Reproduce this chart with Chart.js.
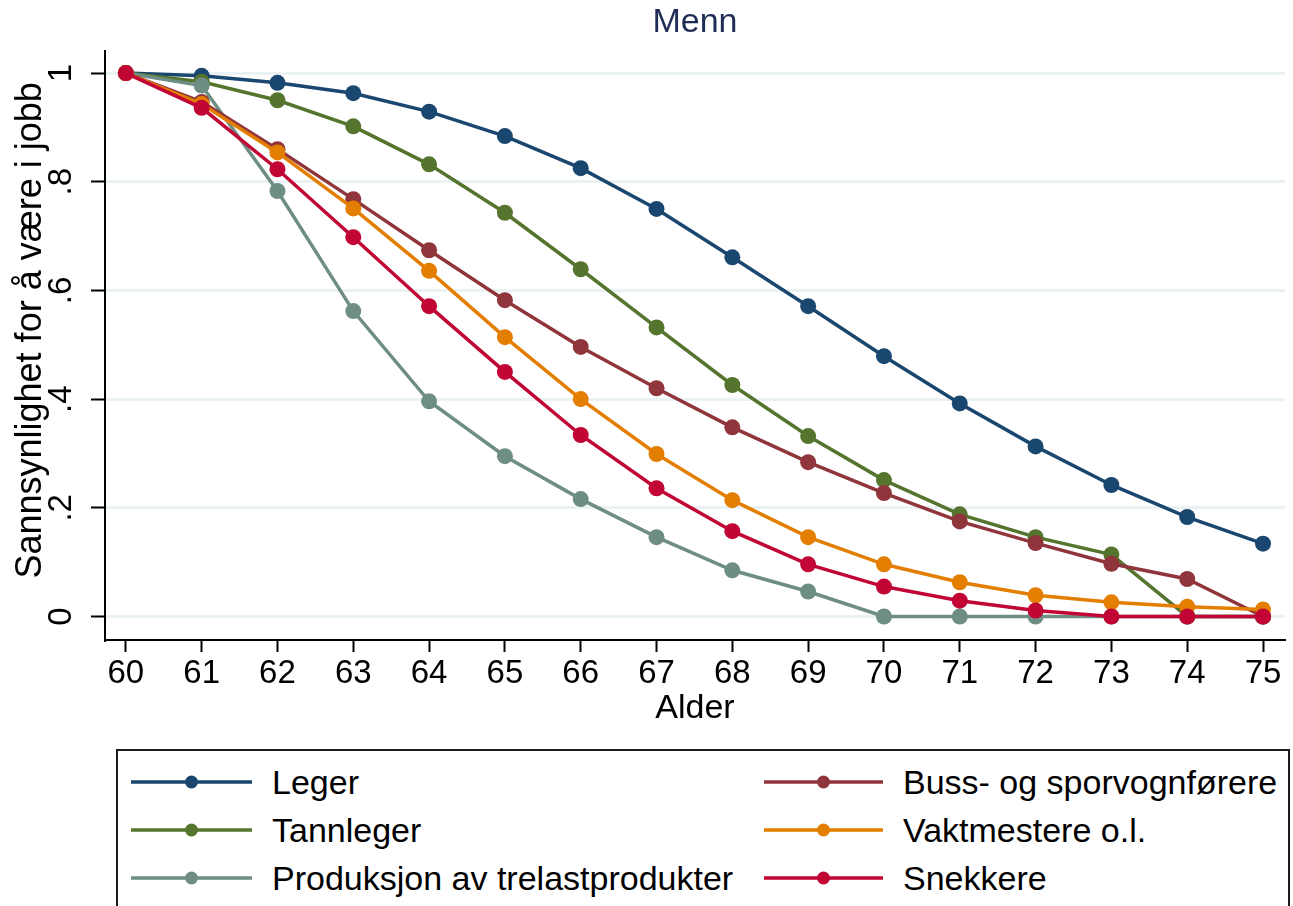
<!DOCTYPE html>
<html>
<head>
<meta charset="utf-8">
<title>Menn</title>
<script src="https://cdn.jsdelivr.net/npm/chart.js@4.4.1/dist/chart.umd.min.js"></script>
<style>
  body { margin: 0; background: #fff; overflow: hidden; }
  #wrap { position: relative; width: 1293px; height: 906px; font-family: "Liberation Sans", Arial, sans-serif; }
  #chart { position: absolute; left: 0; top: 0; }
  #legend { position: absolute; left: 116px; top: 749px; width: 1170px; height: 200px; border: 2px solid #1b1b1b; }
  .item { position: absolute; height: 40px; display: flex; align-items: center; }
  .item span { font-size: 34px; color: #000; margin-left: 20px; white-space: nowrap; }
</style>
</head>
<body>
<div id="wrap">
  <canvas id="chart" width="1293" height="745"></canvas>
  <div id="legend"></div>
</div>
<script>
// Data
const ages = [60, 61, 62, 63, 64, 65, 66, 67, 68, 69, 70, 71, 72, 73, 74, 75];
const leger        = [1, 0.995, 0.982, 0.963, 0.929, 0.884, 0.825, 0.750, 0.661, 0.571, 0.479, 0.392, 0.313, 0.242, 0.183, 0.134];
const tannleger    = [1, 0.984, 0.950, 0.902, 0.832, 0.743, 0.639, 0.532, 0.426, 0.332, 0.251, 0.188, 0.146, 0.114, 0, 0];
const produksjon   = [1, 0.977, 0.783, 0.562, 0.396, 0.295, 0.216, 0.146, 0.085, 0.046, 0, 0, 0, 0, 0, 0];
const buss         = [1, 0.947, 0.860, 0.768, 0.674, 0.582, 0.496, 0.420, 0.348, 0.284, 0.227, 0.175, 0.135, 0.097, 0.069, 0];
const vaktmestere  = [1, 0.943, 0.854, 0.751, 0.636, 0.514, 0.400, 0.299, 0.214, 0.146, 0.096, 0.063, 0.039, 0.026, 0.018, 0.013];
const snekkere     = [1, 0.936, 0.823, 0.698, 0.571, 0.450, 0.334, 0.236, 0.157, 0.096, 0.055, 0.029, 0.011, 0, 0, 0];

const seriesNames = ['Leger', 'Tannleger', 'Produksjon av trelastprodukter', 'Buss- og sporvognførere', 'Vaktmestere o.l.', 'Snekkere'];
const seriesValues = [leger, tannleger, produksjon, buss, vaktmestere, snekkere];
const seriesColors = ['#1a476f', '#55752f', '#6e8e84', '#90353b', '#e37e00', '#c10534'];

const yTickValues = [0, 0.2, 0.4, 0.6, 0.8, 1];
const yTickLabels = ['0', '.2', '.4', '.6', '.8', '1'];

const FONT = '"Liberation Sans", Arial, sans-serif';
Chart.defaults.font.family = FONT;

// Legend (two columns, filled column by column like Stata)
const legendBox = document.getElementById('legend');
seriesNames.forEach((name, i) => {
  const col = Math.floor(i / 3);
  const row = i % 3;
  const item = document.createElement('div');
  item.className = 'item';
  item.style.left = (col === 0 ? 13 : 646) + 'px';
  item.style.top = (11 + row * 48) + 'px';
  const w = col === 0 ? 121 : 119;
  item.innerHTML =
    '<svg width="' + w + '" height="40">' +
    '<line x1="0" y1="20" x2="' + w + '" y2="20" stroke="' + seriesColors[i] + '" stroke-width="3.5"/>' +
    '<circle cx="' + (w / 2) + '" cy="20" r="6.5" fill="' + seriesColors[i] + '"/></svg>' +
    '<span>' + name + '</span>';
  legendBox.appendChild(item);
});

const datasets = seriesNames.map((name, i) => ({
  label: name,
  data: ages.map((a, j) => ({ x: a, y: seriesValues[i][j] })),
  borderColor: seriesColors[i],
  backgroundColor: seriesColors[i],
  pointBackgroundColor: seriesColors[i],
  pointBorderWidth: 0,
  pointRadius: 8,
  borderWidth: 3.5,
  tension: 0,
  fill: false,
  order: seriesNames.length - i
}));

new Chart(document.getElementById('chart'), {
  type: 'line',
  data: { datasets: datasets },
  options: {
    responsive: false,
    animation: false,
    layout: { padding: 0 },
    plugins: {
      legend: { display: false },
      tooltip: { enabled: false },
      title: {
        display: true,
        text: 'Menn',
        fullSize: false,
        color: '#1f2d56',
        font: { size: 34, weight: 'normal' },
        padding: { top: 2, bottom: 8 }
      }
    },
    scales: {
      x: {
        type: 'linear',
        min: 59.725,
        max: 75.29,
        afterBuildTicks: (s) => { s.ticks = ages.map(v => ({ value: v })); },
        afterFit: (s) => { s.height = 105; },
        grid: { drawOnChartArea: false, drawTicks: true, tickLength: 12, tickColor: '#000', tickWidth: 2 },
        border: { display: true, color: '#000', width: 2 },
        ticks: {
          autoSkip: false, maxRotation: 0, minRotation: 0, padding: 2,
          color: '#000', font: { size: 33 },
          callback: (v) => String(v)
        },
        title: { display: true, text: 'Alder', color: '#000', font: { size: 34 }, padding: { top: 0, bottom: 16 } }
      },
      y: {
        min: -0.0433,
        max: 1.041,
        afterBuildTicks: (s) => { s.ticks = yTickValues.map(v => ({ value: v })); },
        afterFit: (s) => { s.width = 105; },
        grid: { color: '#eaf2f3', lineWidth: 3, drawTicks: true, tickLength: 14, tickColor: '#000', tickWidth: 2 },
        border: { display: true, color: '#000', width: 2 },
        ticks: {
          minRotation: 90, maxRotation: 90, crossAlign: 'center', padding: 15,
          color: '#000', font: { size: 33 },
          callback: (v) => { const k = yTickValues.indexOf(v); return k >= 0 ? yTickLabels[k] : ''; }
        },
        // leading spaces nudge the centred title up a little, as in the original
        title: { display: true, text: '   Sannsynlighet for å være i jobb', color: '#000', font: { size: 36 }, padding: { top: 9, bottom: 0 } }
      }
    }
  }
});
</script>
</body>
</html>
